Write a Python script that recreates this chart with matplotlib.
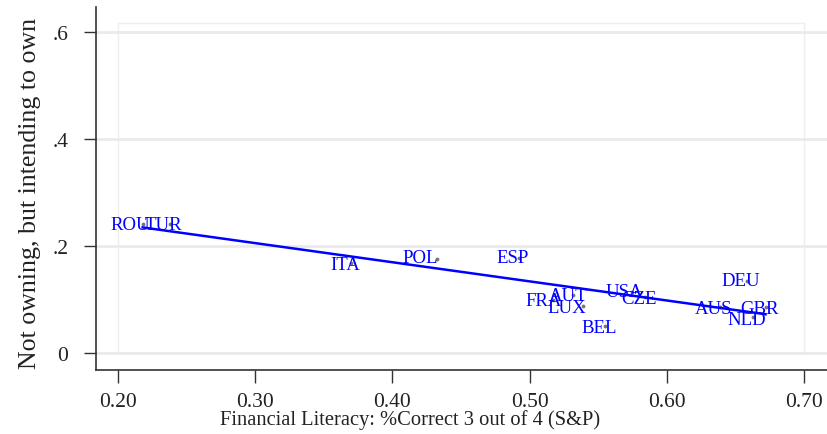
import numpy as np
import matplotlib
matplotlib.use("Agg")
import matplotlib.pyplot as plt
from matplotlib.patches import Rectangle

countries = ["ROU", "TUR", "ITA", "POL", "ESP", "FRA", "AUT", "LUX", "BEL",
             "USA", "CZE", "DEU", "AUS", "GBR", "NLD"]
fin_lit = [0.218, 0.238, 0.370, 0.4325, 0.492, 0.517, 0.532, 0.539, 0.555,
           0.575, 0.584, 0.6585, 0.639, 0.672, 0.663]
intend_own = [0.241, 0.241, 0.168, 0.176, 0.178, 0.099, 0.108, 0.088, 0.050,
              0.114, 0.105, 0.135, 0.086, 0.086, 0.067]
# label x-offsets in points (label placement tweaks)
label_dx = [-9, -4.5, -4, -12, -4, -7, -4, -12, -4.5, -6, -4, -4.5, -4.5, -4.5, -5]
label_dy = [0, 0, -1, 1, 0, 0, 0, -1, -1, 0, -1, 0, -1, -1, -1.5]

xticks = [0.2, 0.3, 0.4, 0.5, 0.6, 0.7]
xticklabels = ["0.20", "0.30", "0.40", "0.50", "0.60", "0.70"]
yticks = [0, 0.2, 0.4, 0.6]
yticklabels = ["0", ".2", ".4", ".6"]

plt.rcParams['font.family'] = ['Liberation Serif', 'DejaVu Serif']

fig = plt.figure(figsize=(8.28, 4.35), dpi=100)
ax = fig.add_axes([96/828, 1 - 371/435, 1 - 96/828, (371 - 8)/435])
ax.set_xlim(0.184, 0.7175)
ax.set_ylim(-0.0318, 0.6467)

# plot region box and grid
ax.add_patch(Rectangle((0.2, 0), 0.5, 0.617, fill=False, edgecolor="#eeeeee",
                       linewidth=1.0, zorder=0))
for yt in yticks:
    ax.axhline(yt, color="#eaeaea", linewidth=2.0, zorder=0)

x = np.array(fin_lit)
y = np.array(intend_own)
slope, intercept = np.polyfit(x, y, 1)
xs = np.array([x.min(), x.max()])
ax.plot(xs, intercept + slope * xs, color="#0000ff", linewidth=1.8, zorder=3)

ax.scatter(x, y, s=3, color="#777777", zorder=2)
for c, xi, yi, dx, dy in zip(countries, fin_lit, intend_own, label_dx, label_dy):
    ax.annotate(c, (xi, yi), xytext=(dx, dy), textcoords="offset points",
                ha="center", va="center", color="#0000ff", fontsize=13.5, zorder=4)

for s in ["top", "right"]:
    ax.spines[s].set_visible(False)
for s in ["left", "bottom"]:
    ax.spines[s].set_color("#333333")
    ax.spines[s].set_linewidth(1.2)

ax.set_xticks(xticks)
ax.set_xticklabels(xticklabels)
ax.set_yticks(yticks)
ax.set_yticklabels(yticklabels)
ax.tick_params(axis="both", direction="out", length=9, width=1.0, color="#333333",
               labelsize=15.5, labelcolor="#222222")
ax.tick_params(axis="x", pad=7)
ax.tick_params(axis="y", pad=11)

ax.set_xlabel("Financial Literacy: %Correct 3 out of 4 (S&P)", fontsize=14.8, color="#222222")
ax.xaxis.set_label_coords(0.429, -0.135)
ax.xaxis.label.set_va("center")
ax.set_ylabel("Not owning, but intending to own", fontsize=18.6, color="#222222")
ax.yaxis.set_label_coords(-0.09, 0.49)
ax.yaxis.label.set_va("center")

fig.savefig("out.png", dpi=100)
